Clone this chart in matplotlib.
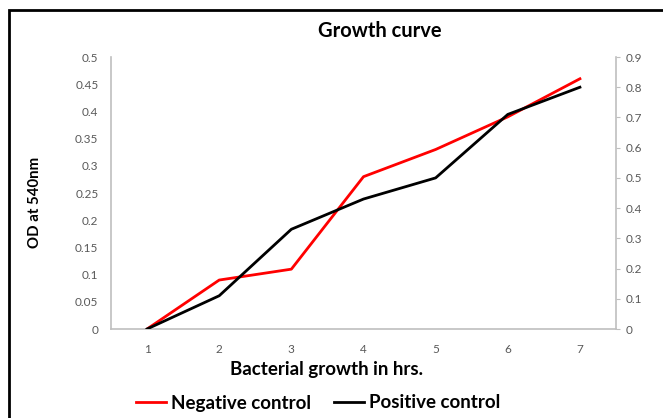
import matplotlib
matplotlib.use("Agg")
import matplotlib.pyplot as plt
from matplotlib.patches import Rectangle
from matplotlib.lines import Line2D

plt.rcParams["font.family"] = ["Lato", "DejaVu Sans"]

hours = [1, 2, 3, 4, 5, 6, 7]
negative_od = [0, 0.09, 0.11, 0.28, 0.33, 0.39, 0.46]
positive_od = [0, 0.11, 0.33, 0.43, 0.50, 0.71, 0.80]
left_ticks = [0, 0.05, 0.1, 0.15, 0.2, 0.25, 0.3, 0.35, 0.4, 0.45, 0.5]
right_ticks = [0, 0.1, 0.2, 0.3, 0.4, 0.5, 0.6, 0.7, 0.8, 0.9]

W, H = 663, 418
fig = plt.figure(figsize=(W / 100, H / 100), dpi=100)

# outer frame
fig.patches.append(Rectangle((9 / W, -0.1), 1.2, (H - 10) / H + 0.1,
                             transform=fig.transFigure, fill=False,
                             edgecolor="black", linewidth=2))

ax = fig.add_axes([111 / W, (H - 329) / H, (616 - 111) / W, (329 - 57) / H])
ax2 = ax.twinx()

ax.plot(hours, negative_od, color="#ff0000", linewidth=2)
ax2.plot(hours, positive_od, color="black", linewidth=2)

ax.set_xlim(0.5, 7.5)
ax.set_ylim(0, 0.5)
ax2.set_ylim(0, 0.9)
ax.set_xticks(hours)
ax.set_yticks(left_ticks)
ax.set_yticklabels([f"{t:g}" for t in left_ticks])
ax2.set_yticks(right_ticks)
ax2.set_yticklabels([f"{t:g}" for t in right_ticks])

grey = "#bfbfbf"
for a in (ax, ax2):
    for s in a.spines.values():
        s.set_visible(False)
    a.tick_params(labelsize=8.5, labelcolor="#595959")
ax.spines["left"].set_visible(True)
ax.spines["bottom"].set_visible(True)
ax2.spines["right"].set_visible(True)
for s in (ax.spines["left"], ax.spines["bottom"], ax2.spines["right"]):
    s.set_color(grey)
    s.set_linewidth(1.2)
ax.tick_params(axis="y", length=0, pad=9)
ax.tick_params(axis="x", length=0, pad=11)
ax2.tick_params(axis="y", length=3, color=grey, pad=4)

fig.text(380 / W, 1 - 31 / H, "Growth curve", ha="center", va="center",
         fontsize=14.5, fontweight="bold")
fig.text(35 / W, 1 - 202 / H, "OD at 540nm", ha="center", va="center",
         rotation=90, fontsize=10.8, fontweight="bold")
fig.text(327 / W, 1 - 369 / H, "Bacterial growth in hrs.", ha="center",
         va="center", fontsize=13.5, fontweight="bold")

handles = [Line2D([], [], color="#ff0000", linewidth=2),
           Line2D([], [], color="black", linewidth=2)]
fig.legend(handles, ["Negative control", "Positive control"],
           loc="center", bbox_to_anchor=(318 / W, 1 - 403 / H), ncol=2,
           frameon=False, prop={"size": 13.5, "weight": "bold"},
           handlelength=1.6, handletextpad=0.3, columnspacing=1.2)

fig.savefig("out.png", dpi=100)
